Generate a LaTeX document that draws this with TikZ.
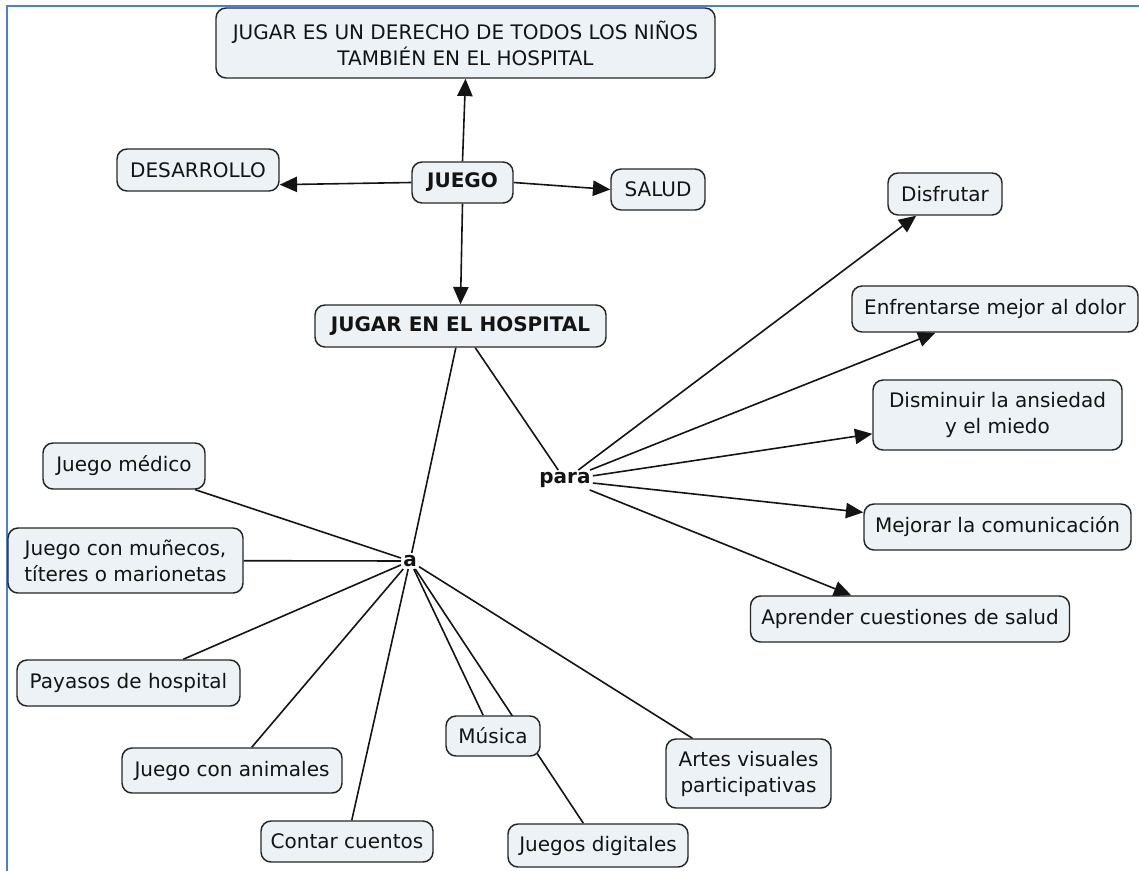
\documentclass[tikz,border=0pt]{standalone}
\usepackage{fontspec}
\setmainfont{DejaVu Sans}
\usetikzlibrary{arrows.meta}
\pgfdeclarelayer{background}
\pgfsetlayers{background,main}
\definecolor{boxfill}{HTML}{ECF2F5}
\definecolor{boxline}{HTML}{262626}
\definecolor{framecol}{HTML}{4A7FD6}
\definecolor{ink}{HTML}{141414}

\begin{document}
\begin{tikzpicture}[x=0.75pt,y=-0.75pt,
  concept/.style={draw=boxline, line width=1.1pt, fill=boxfill, rounded corners=7.5pt,
    text=ink, align=center, font=\fontsize{15}{19.5}\selectfont, inner sep=2pt},
  sz/.style 2 args={minimum width=#1*0.75pt, minimum height=#2*0.75pt},
  link/.style={draw=ink, line width=1.2pt},
  arrowlink/.style={link, -{Triangle[length=13pt,width=11.5pt]}},
  linkword/.style={font=\fontsize{15}{18}\selectfont\bfseries, text=ink, inner sep=1.5pt}
]
\useasboundingbox (0,0) rectangle (1139,871);

% page frame
\draw[framecol, line width=1.6pt] (7,871) -- (7,6) -- (1139,6);

% concepts
\node[concept, sz={499}{70}] (top) at (465.5,43)
  {JUGAR ES UN DERECHO DE TODOS LOS NIÑOS\\TAMBIÉN EN EL HOSPITAL};
\node[concept, sz={162}{42}] (des) at (198,170) {DESARROLLO};
\node[concept, sz={101}{41}, font=\fontsize{15}{19.5}\selectfont\bfseries] (juego) at (462.5,182.5) {JUEGO};
\node[concept, sz={94}{41}] (salud) at (658,189.5) {SALUD};
\node[concept, sz={291}{42}, font=\fontsize{15}{19.5}\selectfont\bfseries] (hosp) at (460.5,326) {JUGAR EN EL HOSPITAL};

\node[concept, sz={114}{42}] (disf) at (945,194) {Disfrutar};
\node[concept, sz={286}{46}] (enfr) at (995,309) {Enfrentarse mejor al dolor};
\node[concept, sz={249}{70}] (dism) at (997.5,415) {Disminuir la ansiedad\\y el miedo};
\node[concept, sz={267}{46}] (mejo) at (997.5,527) {Mejorar la comunicación};
\node[concept, sz={319}{46}] (apre) at (910,619) {Aprender cuestiones de salud};

\node[concept, sz={162}{46}] (jmed) at (124,466) {Juego médico};
\node[concept, sz={235}{65}] (muneco) at (125.5,560.5) {Juego con muñecos,\\títeres o marionetas};
\node[concept, sz={223}{46}] (paya) at (128.5,683) {Payasos de hospital};
\node[concept, sz={220}{45}] (anim) at (232,770.5) {Juego con animales};
\node[concept, sz={172}{41}] (cont) at (347,841.5) {Contar cuentos};
\node[concept, sz={94}{40}] (musi) at (493,736) {Música};
\node[concept, sz={180}{43}] (digi) at (598,845.5) {Juegos digitales};
\node[concept, sz={165}{69}] (arte) at (748.5,773.5) {Artes visuales\\participativas};

% linking words
\node[linkword] (para) at (565,480) {para};
\node[linkword] (a) at (410,561) {a};

% connectors
\begin{pgfonlayer}{background}
\draw[arrowlink] (juego.north) -- (top.south);
\draw[arrowlink] (juego.west) -- ([yshift=-11pt]des.east);
\draw[arrowlink] (juego.east) -- (salud.west);
\draw[arrowlink] (juego.south) -- (hosp.north);

\draw[link] (hosp) -- (para);
\draw[link] (hosp) -- (a);

\draw[arrowlink] (para) -- (disf);
\draw[arrowlink] (para) -- (enfr);
\draw[arrowlink] (para) -- (dism);
\draw[arrowlink] (para) -- (mejo);
\draw[arrowlink] (para) -- (apre);

\draw[link] (a) -- (jmed);
\draw[link] (a) -- (muneco);
\draw[link] (a) -- (paya);
\draw[link] (a) -- (anim);
\draw[link] (a) -- (cont);
\draw[link] (a) -- (musi);
\draw[link] (a) -- (digi);
\draw[link] (a) -- (arte);
\end{pgfonlayer}
\end{tikzpicture}
\end{document}
